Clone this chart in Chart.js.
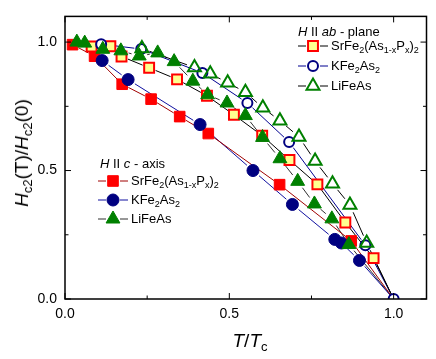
<!DOCTYPE html>
<html>
<head>
<meta charset="utf-8">
<script src="https://cdn.jsdelivr.net/npm/chart.js@4.4.1/dist/chart.umd.min.js"></script>
<style>
  html, body { margin: 0; padding: 0; background: #fff; }
  #wrap { position: relative; width: 436px; height: 359px; font-family: "Liberation Sans", Arial, sans-serif; color: #000; }
  #chart { position: absolute; left: 0; top: 0; }
  .lbl { position: absolute; font-size: 13px; line-height: 16px; white-space: nowrap; }
  .lbl sub { font-size: 9px; line-height: 0; vertical-align: -3px; }
  .title { position: absolute; font-size: 19px; line-height: 22px; white-space: nowrap; transform: translate(-50%, -50%); }
  .title sub { font-size: 13px; line-height: 0; vertical-align: -4px; }
  #ytitle { left: 22px; top: 153px; transform: translate(-50%, -50%) rotate(-90deg); }
  #xtitle { left: 250px; top: 341px; }
</style>
</head>
<body>
<div id="wrap">
  <canvas id="chart" width="436" height="359"></canvas>
  <div class="title" id="ytitle"><i>H</i><sub>c2</sub>(T)/<i>H</i><sub>c2</sub>(0)</div>
  <div class="title" id="xtitle"><i>T</i>/<i>T</i><sub>c</sub></div>

  <div class="lbl" style="left:298px; top:24px"><i>H</i> II <i>ab</i> - plane</div>
  <div class="lbl" style="left:331px; top:38px">SrFe<sub>2</sub>(As<sub>1-x</sub>P<sub>x</sub>)<sub>2</sub></div>
  <div class="lbl" style="left:331px; top:58px">KFe<sub>2</sub>As<sub>2</sub></div>
  <div class="lbl" style="left:331px; top:78px">LiFeAs</div>

  <div class="lbl" style="left:100px; top:156px"><i>H</i> II <i>c</i> - axis</div>
  <div class="lbl" style="left:131px; top:173px">SrFe<sub>2</sub>(As<sub>1-x</sub>P<sub>x</sub>)<sub>2</sub></div>
  <div class="lbl" style="left:131px; top:192px">KFe<sub>2</sub>As<sub>2</sub></div>
  <div class="lbl" style="left:131px; top:211px">LiFeAs</div>
</div>
<script>
// axis ticks
const xTicks = [0, 0.5, 1.0];
const xMinor = [0.25, 0.75];
const yTicks = [0, 0.5, 1.0];
const yMinor = [0.25, 0.75];

// H || c-axis
const srC_T = [0.023, 0.090, 0.174, 0.262, 0.349, 0.436, 0.653, 0.871, 1.0];
const srC_H = [0.990, 0.945, 0.836, 0.778, 0.710, 0.644, 0.445, 0.226, 0];
const kC_T = [0.113, 0.192, 0.411, 0.572, 0.692, 0.821, 0.841, 0.896, 1.0];
const kC_H = [0.928, 0.854, 0.679, 0.500, 0.368, 0.232, 0.218, 0.150, 0];
const liC_T = [0.036, 0.060, 0.115, 0.170, 0.226, 0.282, 0.332, 0.389, 0.434, 0.493, 0.549, 0.601, 0.654, 0.708, 0.759, 0.812, 0.864, 1.0];
const liC_H = [1.000, 0.996, 0.972, 0.966, 0.946, 0.958, 0.924, 0.848, 0.795, 0.763, 0.714, 0.629, 0.546, 0.458, 0.370, 0.312, 0.212, 0];

// H || ab-plane
const srAB_T = [0.081, 0.138, 0.172, 0.256, 0.341, 0.432, 0.514, 0.600, 0.683, 0.768, 0.853, 0.939, 1.0];
const srAB_H = [0.983, 0.984, 0.944, 0.900, 0.855, 0.791, 0.717, 0.636, 0.541, 0.446, 0.298, 0.159, 0];
const kAB_T = [0.110, 0.232, 0.418, 0.555, 0.682, 0.914, 1.0];
const kAB_H = [0.992, 0.973, 0.880, 0.763, 0.611, 0.209, 0];
const liAB_T = [0.234, 0.394, 0.442, 0.495, 0.549, 0.602, 0.654, 0.712, 0.761, 0.814, 0.867, 0.918, 1.0];
const liAB_H = [0.975, 0.901, 0.877, 0.842, 0.805, 0.744, 0.694, 0.631, 0.537, 0.449, 0.366, 0.218, 0];

const RED = '#ff0000', NAVY = '#000080', GREEN = '#008000';

function pts(T, H) {
  return T.map((t, i) => ({ x: t, y: H[i] }));
}

// end point at Tc only carries a marker for the open circle series
function rad(r, keepEnd) {
  return ctx => (ctx.raw && ctx.raw.x === 1 && !keepEnd) ? 0 : r;
}

const series = [
  { data: pts(liC_T, liC_H), pointStyle: 'triangle', radius: 8, bg: GREEN, border: GREEN, bw: 1, line: '#303030', gap: 8, order: 0 },
  { data: pts(liAB_T, liAB_H), pointStyle: 'triangle', radius: 7.5, bg: 'rgba(255,255,255,0)', border: GREEN, bw: 2, line: '#000', gap: 8, order: 1 },
  { data: pts(kAB_T, kAB_H), pointStyle: 'circle', radius: 5, bg: '#fff', border: NAVY, bw: 2, line: '#000090', gap: 7, order: 2, keepEnd: true },
  { data: pts(srAB_T, srAB_H), pointStyle: 'rect', radius: 7, bg: '#ffff90', border: RED, bw: 2, line: '#000', gap: 7, order: 3 },
  { data: pts(kC_T, kC_H), pointStyle: 'circle', radius: 6, bg: NAVY, border: NAVY, bw: 1, line: '#1010a0', gap: 8, order: 4 },
  { data: pts(srC_T, srC_H), pointStyle: 'rect', radius: 7.5, bg: RED, border: RED, bw: 1, line: '#a00000', gap: 7, order: 5 }
];

const datasets = series.map(s => ({
  data: s.data,
  showLine: false,
  pointStyle: s.pointStyle,
  pointRadius: rad(s.radius, s.keepEnd),
  pointBackgroundColor: s.bg,
  pointBorderColor: s.border,
  pointBorderWidth: s.bw,
  order: s.order,
  clip: 0,
  lineColor: s.line,
  gap: s.gap
}));

// legend symbols: [x, y, series index]
const legendItems = [
  [313, 46, 3], [313, 66, 2], [313, 86, 1],
  [113, 181, 5], [113, 200, 4], [113, 219, 0]
];

// connecting lines that stop short of each marker
const gapLines = {
  id: 'gapLines',
  beforeDatasetsDraw(chart) {
    const { ctx, chartArea: a } = chart;
    ctx.save();
    ctx.beginPath();
    ctx.rect(a.left, a.top, a.right - a.left, a.bottom - a.top);
    ctx.clip();
    ctx.lineWidth = 1;
    chart.data.datasets.forEach((ds, i) => {
      const el = chart.getDatasetMeta(i).data;
      ctx.strokeStyle = ds.lineColor;
      for (let k = 0; k < el.length - 1; k++) {
        const p = el[k], q = el[k + 1];
        const dx = q.x - p.x, dy = q.y - p.y, L = Math.hypot(dx, dy);
        const g0 = p.options.radius > 0 ? ds.gap : 0;
        const g1 = q.options.radius > 0 ? ds.gap : 0;
        if (L <= g0 + g1) continue;
        ctx.beginPath();
        ctx.moveTo(p.x + dx * g0 / L, p.y + dy * g0 / L);
        ctx.lineTo(q.x - dx * g1 / L, q.y - dy * g1 / L);
        ctx.stroke();
      }
    });
    ctx.restore();
  }
};

const frame = {
  id: 'frame',
  afterDraw(chart) {
    const { ctx, chartArea: a, scales: { x, y } } = chart;
    ctx.save();
    ctx.strokeStyle = '#000';
    ctx.lineWidth = 1;
    const xt = (v, len) => {
      const px = x.getPixelForValue(v);
      ctx.beginPath();
      ctx.moveTo(px, a.bottom); ctx.lineTo(px, a.bottom - len);
      ctx.moveTo(px, a.top); ctx.lineTo(px, a.top + len);
      ctx.stroke();
    };
    const yt = (v, len) => {
      const py = y.getPixelForValue(v);
      ctx.beginPath();
      ctx.moveTo(a.left, py); ctx.lineTo(a.left + len, py);
      ctx.moveTo(a.right, py); ctx.lineTo(a.right - len, py);
      ctx.stroke();
    };
    xTicks.forEach(v => xt(v, 6));
    xMinor.forEach(v => xt(v, 3.5));
    yTicks.forEach(v => yt(v, 6));
    yMinor.forEach(v => yt(v, 3.5));
    ctx.lineWidth = 1.5;
    ctx.strokeRect(a.left, a.top, a.right - a.left, a.bottom - a.top);

    // legend symbols
    legendItems.forEach(([lx, ly, si]) => {
      const s = series[si];
      ctx.lineWidth = 1;
      ctx.strokeStyle = s.line;
      ctx.beginPath();
      ctx.moveTo(lx - 15, ly); ctx.lineTo(lx - 7, ly);
      ctx.moveTo(lx + 7, ly); ctx.lineTo(lx + 15, ly);
      ctx.stroke();
      ctx.fillStyle = s.bg;
      ctx.strokeStyle = s.border;
      ctx.lineWidth = s.bw;
      Chart.helpers.drawPoint(ctx, { pointStyle: s.pointStyle, radius: s.radius, rotation: 0, borderWidth: s.bw }, lx, ly);
    });
    ctx.restore();
  }
};

const tickFont = { family: '"Liberation Sans", Arial, sans-serif', size: 14 };

new Chart(document.getElementById('chart'), {
  type: 'scatter',
  data: { datasets },
  options: {
    responsive: false,
    animation: false,
    events: [],
    layout: { padding: { left: 0, right: 4, top: 2, bottom: 0 } },
    plugins: { legend: { display: false }, tooltip: { enabled: false } },
    scales: {
      x: {
        type: 'linear', min: 0, max: 1.1,
        grid: { display: false, drawTicks: false },
        border: { display: false },
        afterBuildTicks: s => { s.ticks = xTicks.map(v => ({ value: v })); },
        afterFit: s => { s.height = 60; },
        ticks: { font: tickFont, color: '#000', padding: 7, maxRotation: 0, callback: v => v.toFixed(1) }
      },
      y: {
        type: 'linear', min: 0, max: 1.1,
        grid: { display: false, drawTicks: false },
        border: { display: false },
        afterBuildTicks: s => { s.ticks = yTicks.map(v => ({ value: v })); },
        afterFit: s => { s.width = 65; },
        ticks: { font: tickFont, color: '#000', padding: 8, callback: v => v.toFixed(1) }
      }
    }
  },
  plugins: [gapLines, frame]
});
</script>
</body>
</html>
